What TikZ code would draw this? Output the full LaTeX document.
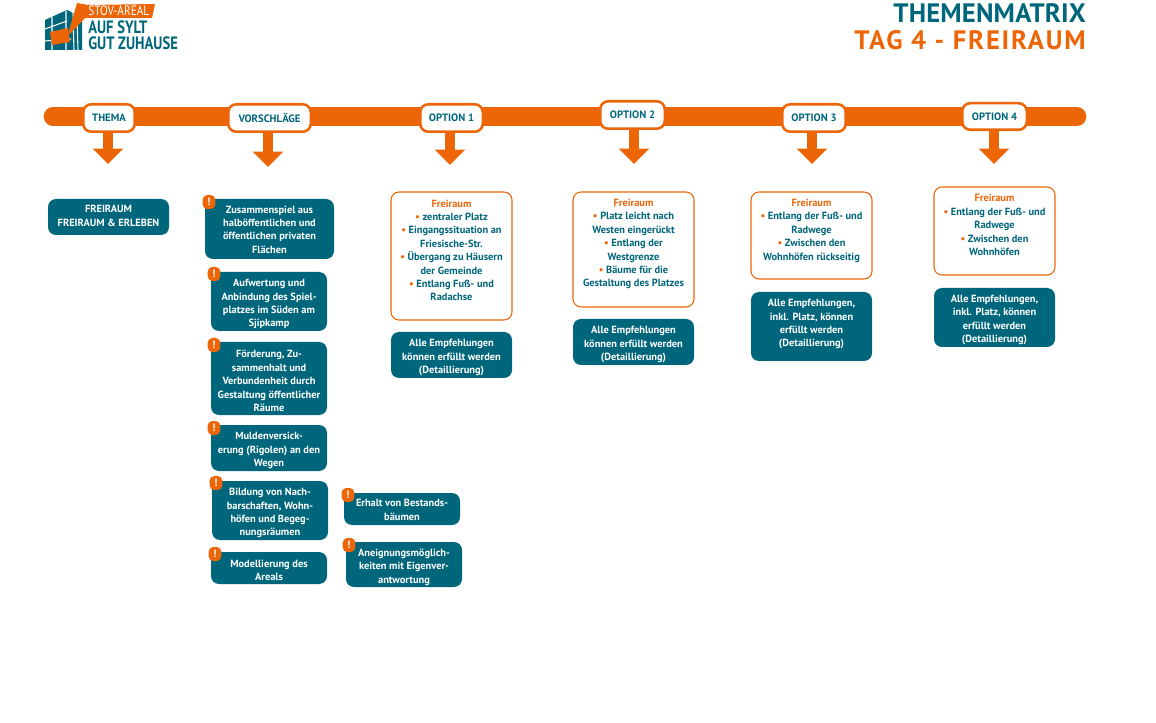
\documentclass[tikz,border=0pt]{standalone}
\usepackage{fontspec}
\setmainfont{PT Sans}
\newfontfamily\titlefont[LetterSpace=.7]{PT Sans}
\newfontfamily\subtitlefont[LetterSpace=6.7]{PT Sans}
\usetikzlibrary{arrows.meta}
\definecolor{tealbox}{HTML}{00667C}
\definecolor{orangeband}{HTML}{EC6608}
\newcommand{\firstline}{}
\tikzset{
    band/.style={line width=14pt, line cap=round, draw=orangeband},
    pill/.style={draw=orangeband, fill=white, line width=1.9pt, rounded corners=6pt, align=center,
        minimum height=20.6pt, font=\fontsize{8pt}{9pt}\selectfont\bfseries, text=tealbox, inner sep=0pt, outer sep=0pt},
    downarrow/.style={draw=orangeband, line width=7.5pt, -{Triangle[length=11.5pt,width=22pt]}},
    tealcard/.style={fill=tealbox, rounded corners=6pt, align=center, text=white,
        font=\fontsize{7.8pt}{10.05pt}\selectfont\bfseries, inner sep=0pt, outer sep=0pt,
        /utils/exec={\def\firstline{\rule{0pt}{9.5pt}}}},
    optcard/.style={draw=orangeband, fill=white, line width=.8pt, rounded corners=6pt, align=center, text=tealbox,
        font=\fontsize{7.8pt}{10.05pt}\selectfont\bfseries, inner sep=0pt, outer sep=0pt},
    notebadge/.style={fill=orangeband, rounded corners=3.5pt, text=white, minimum width=9.5pt, minimum height=10.5pt,
        font=\fontsize{8pt}{8pt}\selectfont\bfseries, inner sep=0pt},
    logotext/.style={inner sep=0pt, anchor=base west},
}
\newcommand{\punkt}{\textcolor{orangeband}{\textbullet}~}
\newcommand{\hd}{\textcolor{orangeband}{Freiraum}}
% box from corner to corner, in pixels of the reference
\newcommand{\card}[7]{\node[#1, minimum width=#5*.75pt-#3*.75pt, minimum height=#6*.75pt-#4*.75pt] (#2) at ({(#3+#5)/2},{(#4+#6)/2}) {\firstline #7};}
\begin{document}
\begin{tikzpicture}[x=.75pt,y=-.75pt]
    \useasboundingbox (0,0) rectangle (1156,723);

    % logo
    \fill[tealbox] (45,20)--(67,10)--(71,12)--(82,20)--(82,50)--(45,50)--cycle;
    \draw[white, line width=.8pt] (45,29)--(67,21) (45,41)--(71,39) (52,17)--(52,50) (66,11)--(66,50) (73,14)--(74,50) (77,18)--(78,50);
    \fill[orangeband] (50,32)--(68,28)--(70,42)--(52,45)--cycle;
    \fill[orangeband] (77,3)--(88,5)--(155,4)--(152,18)--(85,18)--(70,34)--(68,34)--cycle;
    \node[logotext, text=white, font=\fontsize{8.5pt}{9pt}\selectfont] (areal) at (88,15.5) {\scalebox{1}[1.2]{STOV-AREAL}};
    \node[logotext, text=tealbox, font=\fontsize{12pt}{12pt}\selectfont\bfseries] (slogana) at (88,34) {\scalebox{.91}[1.12]{AUF SYLT}};
    \node[logotext, text=tealbox, font=\fontsize{12pt}{12pt}\selectfont\bfseries] (sloganb) at (88,50) {\scalebox{.91}[1.12]{GUT ZUHAUSE}};

    % title
    \node[text=tealbox, font=\fontsize{20pt}{20pt}\titlefont\bfseries, anchor=east, inner sep=0pt] (title) at (1086,13) {THEMENMATRIX};
    \node[text=orangeband, font=\fontsize{20pt}{20pt}\subtitlefont\bfseries, anchor=east, inner sep=0pt] (subtitle) at (1086,40) {TAG 4 - FREIRAUM};

    % band
    \coordinate (bandl) at (53,116.5);
    \coordinate (bandr) at (1077,116.5);
    \draw[band] (bandl)--(bandr);

    % pills with arrows
    \node[pill, minimum width=38.6pt] (thema) at (109,118) {THEMA};
    \node[pill, minimum width=61.9pt] (vorschlaege) at (269.5,118) {VORSCHLÄGE};
    \node[pill, minimum width=46.9pt] (opteins) at (451.5,118) {OPTION 1};
    \node[pill, minimum width=48.4pt] (optzwei) at (632.5,115) {OPTION 2};
    \node[pill, minimum width=47.6pt] (optdrei) at (814,118) {OPTION 3};
    \node[pill, minimum width=48.4pt, minimum height=19.9pt] (optvier) at (994.5,116.5) {OPTION 4};

    \coordinate (tipa) at (108,164);
    \coordinate (tipb) at (268,167);
    \coordinate (tipc) at (450,165);
    \coordinate (tipd) at (634,164);
    \coordinate (tipe) at (812,164);
    \coordinate (tipf) at (994,164);
    \draw[downarrow] (thema.south -| tipa)--(tipa);
    \draw[downarrow] (vorschlaege.south -| tipb)--(tipb);
    \draw[downarrow] (opteins.south -| tipc)--(tipc);
    \draw[downarrow] (optzwei.south -| tipd)--(tipd);
    \draw[downarrow] (optdrei.south -| tipe)--(tipe);
    \draw[downarrow] (optvier.south -| tipf)--(tipf);

    % thema
    \card{tealcard}{themacard}{48}{199}{169}{235}{FREIRAUM\\FREIRAUM \& ERLEBEN\\[-4.5pt]\mbox{}}

    % vorschlaege
    \card{tealcard}{vora}{205}{199}{334}{259}{Zusammenspiel aus\\halböffentlichen und\\öffentlichen privaten\\Flächen\\[-7pt]\mbox{}}
    \card{tealcard}{vorb}{211}{272}{327}{331}{Aufwertung und\\Anbindung des Spiel-\\platzes im Süden am\\Sjipkamp}
    \card{tealcard}{vorc}{211}{342}{327}{415}{Förderung, Zu-\\sammenhalt und\\Verbundenheit durch\\Gestaltung öffentlicher\\Räume}
    \card{tealcard}{vord}{211}{425}{327}{471}{Muldenversick-\\erung (Rigolen) an den\\Wegen}
    \card{tealcard}{vore}{212}{481}{328}{540}{Bildung von Nach-\\barschaften, Wohn-\\höfen und Begeg-\\nungsräumen}
    \card{tealcard}{vorf}{211}{552}{327}{584}{Modellierung des\\Areals}
    \card{tealcard}{vorg}{344}{493}{460}{525}{Erhalt von Bestands-\\bäumen\\[-7pt]\mbox{}}
    \card{tealcard}{vorh}{346}{542}{462}{587}{Aneignungsmöglich-\\keiten mit Eigenver-\\antwortung}

    \foreach \bx/\by/\bname in {209/202/a, 214/274/b, 214/345/c, 214/428/d, 216/483/e, 215/554/f, 348/495/g, 349/545/h}
        \node[notebadge] (badge\bname) at (\bx,\by) {!};

    % optionen
    \card{optcard}{opta}{391}{192}{512}{320}{\hd\\\punkt zentraler Platz\\\punkt Eingangssituation an\\Friesische-Str.\\\punkt Übergang zu Häusern\\der Gemeinde\\\punkt Entlang Fuß- und\\Radachse\\[-1.6pt]\mbox{}}
    \card{tealcard}{erga}{391}{332}{512}{378}{Alle Empfehlungen\\können erfüllt werden\\(Detaillierung)}

    \card{optcard}{optb}{573}{192}{694}{307}{\hd\\\punkt Platz leicht nach\\Westen eingerückt\\\punkt Entlang der\\Westgrenze\\\punkt Bäume für die\\Gestaltung des Platzes\\[-.2pt]\mbox{}}
    \card{tealcard}{ergb}{573}{319}{694}{365}{Alle Empfehlungen\\können erfüllt werden\\(Detaillierung)}

    \card{optcard}{optc}{751}{192}{872}{279}{\hd\\\punkt Entlang der Fuß- und\\Radwege\\\punkt Zwischen den\\Wohnhöfen rückseitig\\[-1.3pt]\mbox{}}
    \card{tealcard}{ergc}{751}{292}{872}{361}{Alle Empfehlungen,\\inkl. Platz, können\\erfüllt werden\\(Detaillierung)\\[-1pt]\mbox{}}

    \card{optcard}{optd}{934}{187}{1055}{275}{\hd\\\punkt Entlang der Fuß- und\\Radwege\\\punkt Zwischen den\\Wohnhöfen\\[-1pt]\mbox{}}
    \card{tealcard}{ergd}{934}{288}{1055}{347}{Alle Empfehlungen,\\inkl. Platz, können\\erfüllt werden\\(Detaillierung)}
\end{tikzpicture}
\end{document}
